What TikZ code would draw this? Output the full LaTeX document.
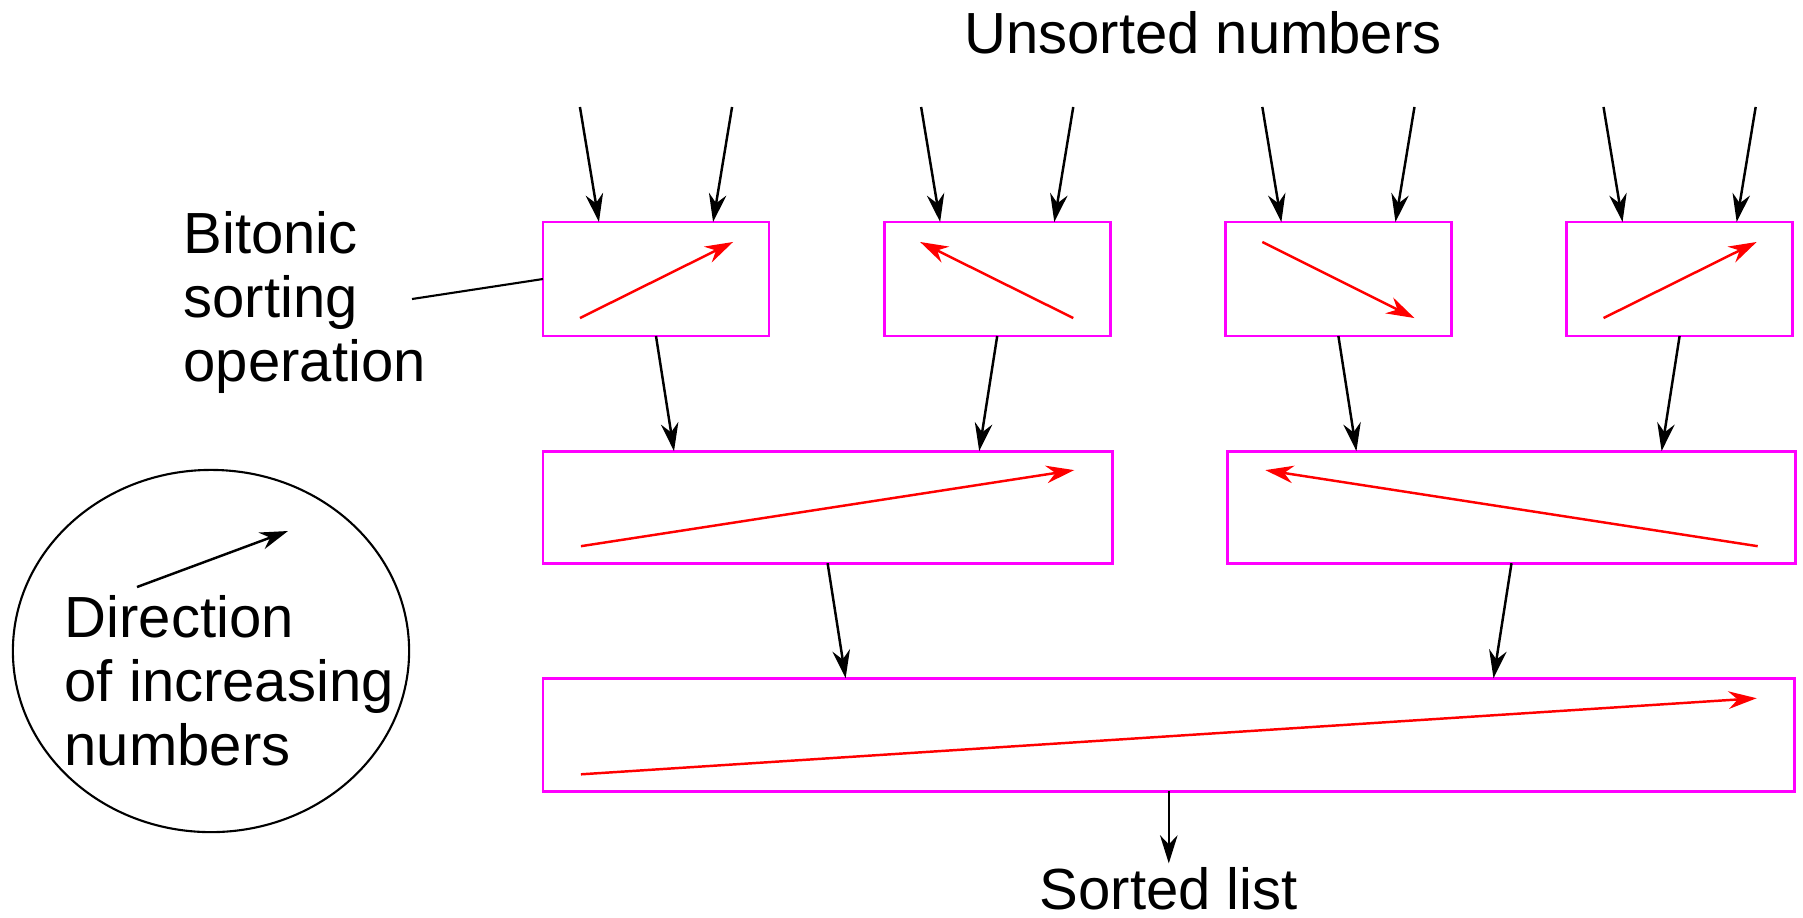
\documentclass[tikz,border=0pt]{standalone}
\usepackage{fontspec}
\setmainfont{Liberation Sans}
\usetikzlibrary{arrows.meta,calc,positioning,shapes.geometric}
\definecolor{opmagenta}{RGB}{255,0,255}
\definecolor{dirred}{RGB}{255,0,0}

\begin{document}
\begin{tikzpicture}[x=0.01cm,y=-0.01cm,>={Stealth[length=8pt,width=5pt]},
	node distance=1.15cm,font=\fontsize{16.5}{18.2}\selectfont,
	op/.style={draw=opmagenta,line width=0.8pt,minimum height=1.14cm,inner sep=0pt,outer sep=0pt},
	dir/.style={->,dirred,line width=0.7pt},
	flow/.style={->,line width=0.7pt}]
		\useasboundingbox (0,0) rectangle (1803,917);
		% sorting operations
		\node[op,minimum width=2.26cm] (a_0) at (656,279) {};
		\node[op,minimum width=2.26cm] [right=of a_0] (a_1) {};
		\node[op,minimum width=2.26cm] [right=of a_1] (a_2) {};
		\node[op,minimum width=2.26cm] [right=of a_2] (a_3) {};
		\node[op,minimum width=5.69cm,minimum height=1.12cm] [below=of a_0.south west,anchor=north west] (b_0) {};
		\node[op,minimum width=5.68cm,minimum height=1.12cm] [right=of b_0] (b_1) {};
		\node[op,minimum width=12.51cm,minimum height=1.13cm] [below=of b_0.south west,anchor=north west] (c_0) {};
		\node[anchor=base] (unsorted) at (1203,53) {Unsorted numbers};
		\node[inner sep=1pt] [below=0.72cm of c_0] (sorted) {Sorted list};
		% inputs
		\foreach \n in {a_0,a_1,a_2,a_3} {
			\draw[flow] ($(\n.north west)+(37,-115)$) -- ($(\n.north west)+(56,0)$);
			\draw[flow] ($(\n.north east)+(-37,-115)$) -- ($(\n.north east)+(-56,0)$);
		}
		% merging
		\draw[flow] (a_0.south) -- ($(a_0.south |- b_0.north)+(18,0)$);
		\draw[flow] (a_1.south) -- ($(a_1.south |- b_0.north)+(-18,0)$);
		\draw[flow] (a_2.south) -- ($(a_2.south |- b_1.north)+(18,0)$);
		\draw[flow] (a_3.south) -- ($(a_3.south |- b_1.north)+(-18,0)$);
		\draw[flow] (b_0.south) -- ($(b_0.south |- c_0.north)+(18,0)$);
		\draw[flow] (b_1.south) -- ($(b_1.south |- c_0.north)+(-18,0)$);
		\draw[flow] (c_0.south) -- (sorted.north);
		% directions
		\draw[dir] ($(a_0.south west)+(37,-18)$) -- ($(a_0.north east)+(-36,20)$);
		\draw[dir] ($(a_1.south east)+(-37,-18)$) -- ($(a_1.north west)+(36,20)$);
		\draw[dir] ($(a_2.north west)+(37,20)$) -- ($(a_2.south east)+(-37,-18)$);
		\draw[dir] ($(a_3.south west)+(37,-18)$) -- ($(a_3.north east)+(-36,20)$);
		\draw[dir] ($(b_0.south west)+(38,-17)$) -- ($(b_0.north east)+(-38,19)$);
		\draw[dir] ($(b_1.south east)+(-38,-17)$) -- ($(b_1.north west)+(38,19)$);
		\draw[dir] ($(c_0.south west)+(38,-17)$) -- ($(c_0.north east)+(-38,20)$);
		% label
		\node[anchor=north west,align=left,inner sep=0pt] (label) at (183,211) {Bitonic\\sorting\\operation};
		\coordinate (lead) at (412,299);
		\draw[line width=0.6pt] (lead) -- (a_0.west);
		% legend
		\node[draw,ellipse,line width=0.6pt,minimum width=3.96cm,minimum height=3.62cm] (legend) at (211,651) {};
		\node[anchor=north west,align=left,inner sep=0pt] (legtext) at (64,595) {Direction\\of increasing\\numbers};
		\coordinate (l_0) at (137,587);
		\coordinate (l_1) at (288,531);
		\draw[flow] (l_0) -- (l_1);
	\end{tikzpicture}
\end{document}
